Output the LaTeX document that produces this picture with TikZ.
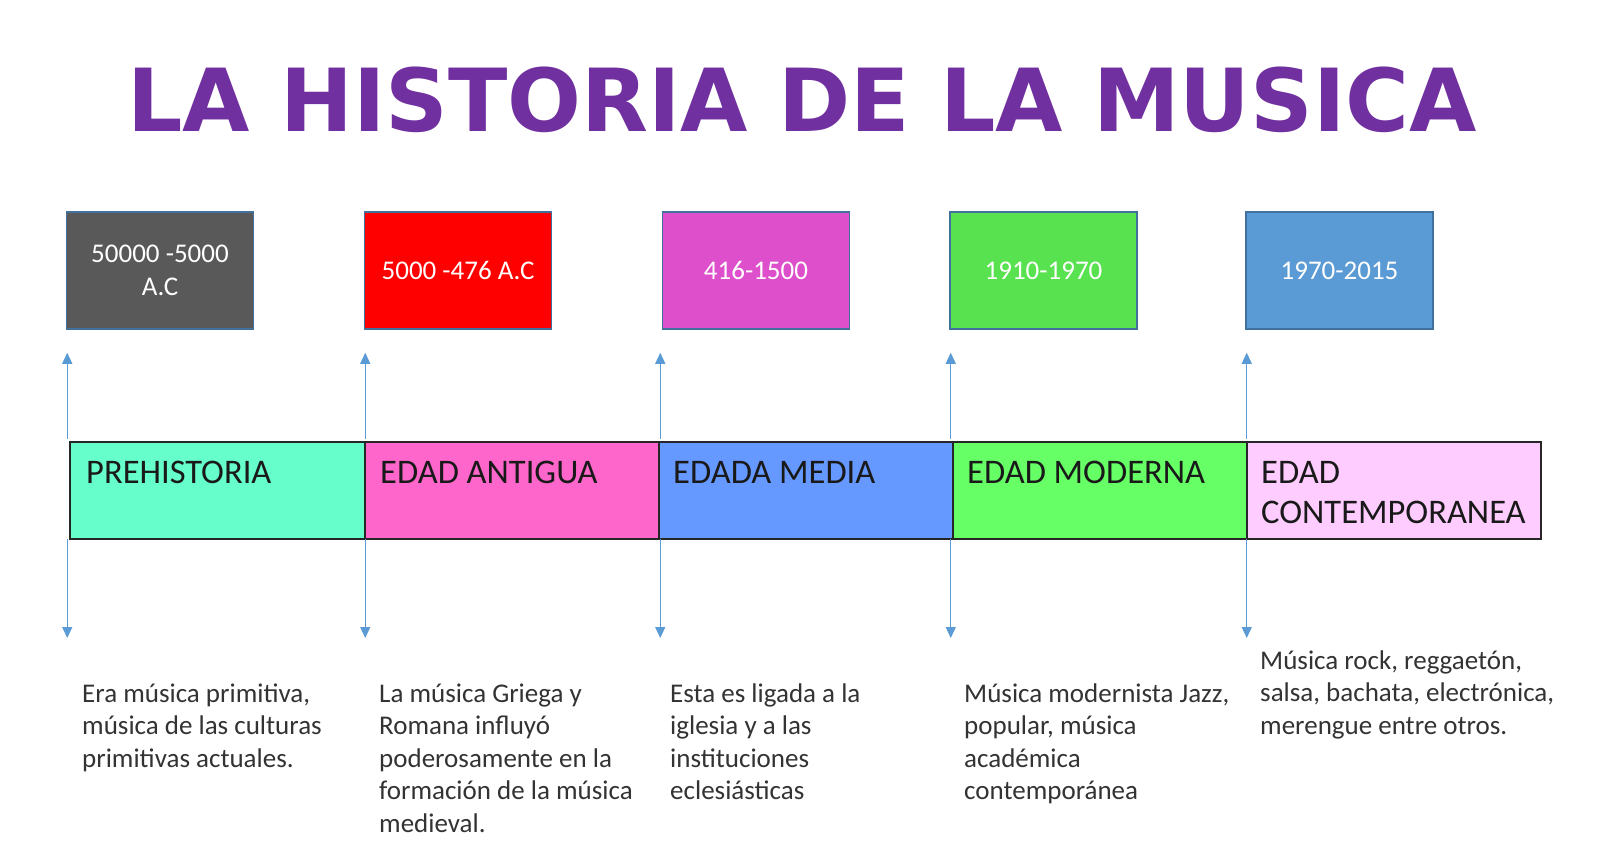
\documentclass[tikz,border=0pt]{standalone}
\usepackage{fontspec}
\setmainfont{Carlito}
\newfontfamily\titlefont{DejaVu Sans}
\usetikzlibrary{arrows.meta, positioning}

\definecolor{titlepurple}{HTML}{7030A0}
\definecolor{boxedge}{HTML}{41719C}
\definecolor{arrowblue}{HTML}{5B9BD5}
\definecolor{grayfill}{HTML}{595959}
\definecolor{redfill}{HTML}{FF0000}
\definecolor{magentafill}{HTML}{DD4FCB}
\definecolor{greenfill}{HTML}{59E24F}
\definecolor{bluefill}{HTML}{5B9BD5}
\definecolor{prehist}{HTML}{66FFCC}
\definecolor{antigua}{HTML}{FF66CC}
\definecolor{media}{HTML}{6699FF}
\definecolor{moderna}{HTML}{66FF66}
\definecolor{contemp}{HTML}{FFCCFF}

\tikzset{
  datebox/.style={draw=boxedge, line width=1.5pt, minimum width=187pt, minimum height=117pt,
    inner sep=0pt, text=white, align=center, font=\fontsize{27}{32.6}\selectfont},
  period/.style={draw=black!85, line width=1.8pt, minimum width=294pt, minimum height=97pt,
    inner sep=0pt, outer sep=0pt},
  periodtext/.style={anchor=base west, inner sep=0pt, align=left, text=black!90,
    font=\fontsize{34.5}{40}\selectfont},
  notetext/.style={anchor=base west, inner sep=0pt, align=left, text=black!80,
    font=\fontsize{27}{32.6}\selectfont},
  link/.style={-{Triangle[length=11pt, width=10pt]}, arrowblue, line width=1.3pt}
}

\begin{document}
\begin{tikzpicture}[x=1pt, y=-1pt]
      \useasboundingbox[fill=white] (0,0) rectangle (1600,854);

      \node[anchor=base, inner sep=0pt, text=titlepurple, font=\titlefont\bfseries\fontsize{87}{90}\selectfont] (title) at (802,131) {LA HISTORIA DE LA MUSICA};

      % date boxes
      \node[datebox, fill=grayfill] (date1) at (160,270.5) {50000 -5000\\A.C};
      \node[datebox, fill=redfill] (date2) at (458,270.5) {5000 -476 A.C};
      \node[datebox, fill=magentafill] (date3) at (756,270.5) {416-1500};
      \node[datebox, fill=greenfill] (date4) at (1043.5,270.5) {1910-1970};
      \node[datebox, fill=bluefill] (date5) at (1339.5,270.5) {1970-2015};

      % timeline bar
      \node[period, fill=prehist, minimum width=295pt] (seg1) at (217.5,490.5) {};
      \node[period, fill=antigua, right=0pt of seg1] (seg2) {};
      \node[period, fill=media, right=0pt of seg2] (seg3) {};
      \node[period, fill=moderna, right=0pt of seg3] (seg4) {};
      \node[period, fill=contemp, right=0pt of seg4] (seg5) {};

      % names (anchored at the baseline of the last line)
      \node[periodtext] (name1) at (86,483) {PREHISTORIA};
      \node[periodtext] (name2) at (380,483) {EDAD ANTIGUA};
      \node[periodtext] (name3) at (673,483) {EDADA MEDIA};
      \node[periodtext] (name4) at (967,483) {EDAD MODERNA};
      \node[periodtext] (name5) at (1261,523) {EDAD\\CONTEMPORANEA};

      % arrows up and down
      \draw[link] ([xshift=1.5pt, yshift=3pt]date1.south west |- seg1.north) -- ([xshift=1.5pt, yshift=-23pt]date1.south west);
      \draw[link] ([xshift=1.5pt, yshift=3pt]date2.south west |- seg1.north) -- ([xshift=1.5pt, yshift=-23pt]date2.south west);
      \draw[link] ([xshift=-1.5pt, yshift=3pt]date3.south west |- seg1.north) -- ([xshift=-1.5pt, yshift=-23pt]date3.south west);
      \draw[link] ([xshift=1.5pt, yshift=3pt]date4.south west |- seg1.north) -- ([xshift=1.5pt, yshift=-23pt]date4.south west);
      \draw[link] ([xshift=1.5pt, yshift=3pt]date5.south west |- seg1.north) -- ([xshift=1.5pt, yshift=-23pt]date5.south west);

      \draw[link] ([xshift=1.5pt]date1.south west |- seg1.south) -- ([xshift=1.5pt, yshift=-99pt]date1.south west |- seg1.south);
      \draw[link] ([xshift=1.5pt]date2.south west |- seg1.south) -- ([xshift=1.5pt, yshift=-99pt]date2.south west |- seg1.south);
      \draw[link] ([xshift=-1.5pt]date3.south west |- seg1.south) -- ([xshift=-1.5pt, yshift=-99pt]date3.south west |- seg1.south);
      \draw[link] ([xshift=1.5pt]date4.south west |- seg1.south) -- ([xshift=1.5pt, yshift=-99pt]date4.south west |- seg1.south);
      \draw[link] ([xshift=1.5pt]date5.south west |- seg1.south) -- ([xshift=1.5pt, yshift=-99pt]date5.south west |- seg1.south);

      % descriptions (anchored at the baseline of the last line)
      \node[notetext] (note1) at (82,767.2) {Era música primitiva,\\música de las culturas\\primitivas actuales.};
      \node[notetext] (note2) at (379,832.4) {La música Griega y\\Romana influyó\\poderosamente en la\\formación de la música\\medieval.};
      \node[notetext] (note3) at (670,799.8) {Esta es ligada a la\\iglesia y a las\\instituciones\\eclesiásticas};
      \node[notetext] (note4) at (964,799.8) {Música modernista Jazz,\\popular, música\\académica\\contemporánea};
      \node[notetext] (note5) at (1260,734.2) {Música rock, reggaetón,\\salsa, bachata, electrónica,\\merengue entre otros.};
    \end{tikzpicture}
\end{document}
